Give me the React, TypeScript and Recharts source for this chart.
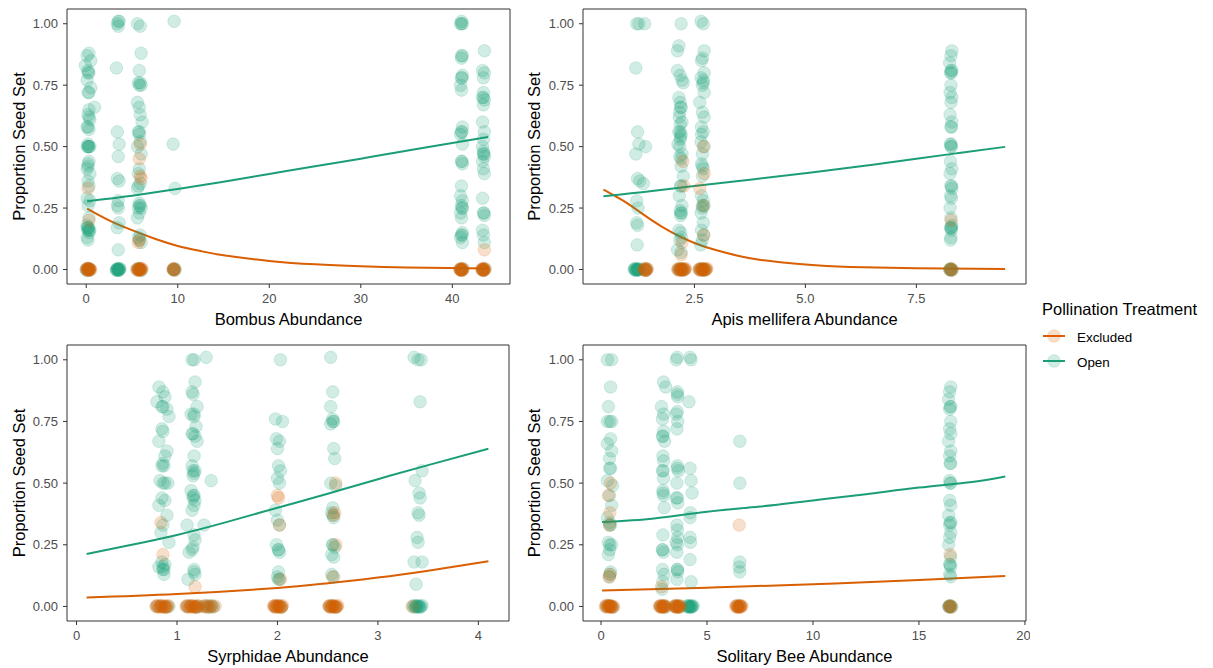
import { ComposedChart, Scatter, Line, XAxis, YAxis, ReferenceArea } from 'recharts'

type Pt = [number, number]

const OPEN = '#1B9E77'
const EXCL = '#D95F02'

const yTicks = [0, 0.25, 0.5, 0.75, 1]
const yDomain: [number, number] = [-0.059, 1.06]

// Bombus
const bombusTicks = [0, 10, 20, 30, 40]
const bombusOpen: Pt[] = [
  [0.3, 0.88], [0.1, 0.87], [0.5, 0.85], [-0.1, 0.83], [0.2, 0.81], [0.3, 0.8], [0.2, 0.8], [0.1, 0.77], [0.5, 0.74],
  [0.2, 0.72], [0.3, 0.72], [0.9, 0.66], [0.3, 0.65], [0.2, 0.63], [0.3, 0.62], [0.4, 0.61], [0.1, 0.58], [0.2, 0.58],
  [0.3, 0.57], [0.2, 0.51], [0.4, 0.5], [0.1, 0.5], [0.3, 0.5], [0.2, 0.5], [0.25, 0.5], [0.3, 0.44], [0.2, 0.43],
  [0.2, 0.42], [0.1, 0.41], [0.4, 0.39], [0.2, 0.36], [0.3, 0.34], [0.1, 0.29], [0.4, 0.28], [0.2, 0.26], [0.3, 0.21],
  [0.1, 0.18], [0.2, 0.17], [0.1, 0.17], [0.25, 0.17], [0.2, 0.16], [0.4, 0.16], [0.3, 0.16], [0.3, 0.15], [0.1, 0.13],
  [0.2, 0.12],
  [3.5, 1.01], [3.4, 1.0], [3.6, 1.01], [3.5, 0.99], [3.3, 0.82], [3.4, 0.56], [3.6, 0.51], [3.5, 0.46], [3.4, 0.37],
  [3.6, 0.36], [3.5, 0.28], [3.4, 0.26], [3.5, 0.25], [3.6, 0.19], [3.4, 0.17], [3.5, 0.08],
  [5.6, 1.0], [5.9, 0.99], [6.0, 0.88], [5.8, 0.81], [5.9, 0.76], [5.7, 0.76], [6.0, 0.75], [5.8, 0.75], [5.6, 0.68],
  [5.8, 0.66], [5.9, 0.63], [6.1, 0.6], [5.7, 0.56], [5.8, 0.56], [5.8, 0.55], [5.9, 0.52], [5.6, 0.5], [6.0, 0.47],
  [5.8, 0.41], [5.7, 0.39], [5.9, 0.35], [5.7, 0.34], [5.6, 0.33], [5.8, 0.27], [5.9, 0.26], [5.8, 0.26], [5.7, 0.25],
  [6.0, 0.25], [5.8, 0.23], [5.6, 0.21], [5.9, 0.14], [5.7, 0.13], [5.8, 0.12], [6.0, 0.11],
  [9.6, 1.01], [9.5, 0.51], [9.7, 0.33],
  [41.0, 1.01], [41.1, 1.0], [40.9, 1.0], [41.0, 1.0], [41.1, 0.87], [41.0, 0.86], [41.0, 0.87], [41.1, 0.79],
  [41.0, 0.78], [41.05, 0.78], [40.9, 0.75], [41.0, 0.73], [41.1, 0.58], [41.0, 0.56], [41.05, 0.56], [40.9, 0.55],
  [41.1, 0.51], [41.0, 0.44], [41.05, 0.44], [41.1, 0.43], [41.0, 0.34], [40.9, 0.3], [41.1, 0.28], [41.0, 0.26],
  [41.1, 0.25], [41.05, 0.25], [40.9, 0.23], [41.0, 0.21], [41.1, 0.15], [41.0, 0.14], [41.05, 0.14], [40.9, 0.13],
  [41.1, 0.11],
  [43.5, 0.89], [43.3, 0.81], [43.5, 0.8], [43.4, 0.78], [43.4, 0.72], [43.3, 0.7], [43.4, 0.7], [43.5, 0.69],
  [43.4, 0.67], [43.3, 0.6], [43.5, 0.56], [43.4, 0.53], [43.3, 0.5], [43.4, 0.48], [43.5, 0.46], [43.4, 0.47],
  [43.45, 0.47], [43.3, 0.44], [43.4, 0.41], [43.5, 0.39], [43.3, 0.29], [43.4, 0.23], [43.45, 0.23], [43.5, 0.22],
  [43.3, 0.16], [43.4, 0.14], [43.5, 0.11],
]
const bombusOpenZero: Pt[] = [
  [0.0, 0], [0.4, 0], [0.2, 0.004], [0.1, -0.004], [0.3, 0.002],
  [3.3, 0], [3.4, 0.004], [3.5, -0.004], [3.6, 0], [3.7, 0.003], [3.4, -0.002], [3.5, 0.002], [3.6, -0.003],
  [3.5, 0], [3.4, 0], [3.6, 0.004], [3.3, -0.003],
  [5.6, 0], [5.8, 0.004], [6.0, -0.004], [5.7, 0.002], [5.9, 0],
  [9.5, 0], [9.7, 0.003], [9.6, -0.003], [9.6, 0],
  [40.9, 0], [41.1, 0.003], [41.0, -0.003],
  [43.3, 0], [43.5, 0.003], [43.4, -0.003],
]
const bombusExcl: Pt[] = [
  [0.2, 0.33], [0.3, 0.2],
  [5.9, 0.51], [5.8, 0.45], [5.9, 0.38], [6.0, 0.37], [5.8, 0.12], [5.7, 0.11],
  [43.5, 0.08],
]
const bombusExclZero: Pt[] = [
  [0.0, 0], [0.1, 0.004], [0.2, -0.004], [0.3, 0], [0.4, 0.003], [0.5, -0.002], [0.1, 0.002], [0.2, 0],
  [0.3, -0.003], [0.4, 0], [0.2, 0.005], [0.3, 0.001],
  [5.5, 0], [5.6, 0.004], [5.7, -0.004], [5.8, 0], [5.9, 0.003], [6.0, -0.002], [6.1, 0.002], [5.7, 0],
  [5.8, -0.003], [5.9, 0], [6.0, 0.005], [5.8, 0.001],
  [9.5, 0], [9.6, 0.004], [9.7, -0.003], [9.6, 0], [9.5, 0.002],
  [40.8, 0], [40.9, 0.004], [41.0, -0.004], [41.1, 0], [41.2, 0.003], [40.9, -0.002], [41.0, 0.002],
  [41.1, -0.003], [41.0, 0], [40.9, 0],
  [43.2, 0], [43.3, 0.004], [43.4, -0.004], [43.5, 0], [43.6, 0.003], [43.3, -0.002], [43.4, 0.002],
  [43.5, -0.003], [43.4, 0], [43.3, 0],
]
const bombusOpenFit: Pt[] = [
  [0.1, 0.278], [5, 0.3], [10, 0.328], [15, 0.357], [20, 0.389], [25, 0.42], [30, 0.451], [35, 0.483], [40, 0.515], [43.9, 0.539],
]
const bombusExclFit: Pt[] = [
  [0.1, 0.248], [2.5, 0.2], [5, 0.16], [7.5, 0.125], [10, 0.096], [12.5, 0.075], [15, 0.058], [20, 0.035], [25, 0.021],
  [30, 0.013], [35, 0.008], [43.9, 0.004],
]

// Apis mellifera
const apisTicks = [2.5, 5, 7.5]
const apisOpen: Pt[] = [
  [1.2, 1.0], [1.25, 1.0], [1.18, 0.82], [1.22, 0.56], [1.25, 0.51], [1.18, 0.47], [1.22, 0.37], [1.27, 0.36],
  [1.2, 0.28], [1.23, 0.25], [1.2, 0.19], [1.22, 0.18], [1.21, 0.1],
  [1.38, 1.0], [1.4, 0.5], [1.35, 0.35],
  [2.2, 1.0], [2.15, 0.91], [2.12, 0.89], [2.12, 0.81], [2.18, 0.79], [2.22, 0.77], [2.25, 0.76], [2.15, 0.7],
  [2.18, 0.68], [2.2, 0.66], [2.19, 0.66], [2.17, 0.64], [2.16, 0.62], [2.22, 0.6], [2.18, 0.59], [2.15, 0.56],
  [2.18, 0.56], [2.2, 0.55], [2.19, 0.54], [2.18, 0.53], [2.13, 0.51], [2.17, 0.5], [2.22, 0.47], [2.17, 0.46],
  [2.2, 0.45], [2.2, 0.42], [2.25, 0.38], [2.2, 0.34], [2.19, 0.34], [2.16, 0.3], [2.22, 0.26], [2.18, 0.24],
  [2.2, 0.23], [2.2, 0.23], [2.19, 0.22], [2.15, 0.16], [2.19, 0.15], [2.21, 0.13], [2.17, 0.12], [2.12, 0.08], [2.2, 0.07],
  [2.65, 1.01], [2.7, 1.0], [2.72, 0.89], [2.68, 0.86], [2.66, 0.85], [2.72, 0.8], [2.65, 0.78], [2.7, 0.77],
  [2.7, 0.76], [2.68, 0.75], [2.72, 0.72], [2.62, 0.68], [2.68, 0.64], [2.72, 0.62], [2.66, 0.58], [2.7, 0.56],
  [2.66, 0.55], [2.65, 0.52], [2.72, 0.5], [2.68, 0.47], [2.66, 0.43], [2.68, 0.42], [2.7, 0.41], [2.68, 0.38],
  [2.66, 0.3], [2.7, 0.28], [2.72, 0.26], [2.68, 0.26], [2.68, 0.25], [2.65, 0.23], [2.7, 0.19], [2.66, 0.16],
  [2.71, 0.14], [2.68, 0.12], [2.64, 0.1],
  [8.3, 0.89], [8.28, 0.87], [8.25, 0.84], [8.3, 0.81], [8.27, 0.8], [8.29, 0.8], [8.28, 0.81], [8.28, 0.75],
  [8.26, 0.72], [8.3, 0.7], [8.28, 0.68], [8.26, 0.63], [8.3, 0.6], [8.28, 0.58], [8.29, 0.58], [8.27, 0.51],
  [8.28, 0.51], [8.29, 0.5], [8.28, 0.5], [8.27, 0.44], [8.3, 0.41], [8.26, 0.39], [8.28, 0.34], [8.29, 0.34],
  [8.3, 0.33], [8.27, 0.3], [8.29, 0.29], [8.26, 0.25], [8.28, 0.21], [8.3, 0.18], [8.27, 0.17], [8.28, 0.17],
  [8.29, 0.17], [8.29, 0.16], [8.28, 0.13], [8.27, 0.12],
]
const apisOpenZero: Pt[] = [
  [1.14, 0], [1.16, 0.004], [1.18, -0.004], [1.2, 0], [1.22, 0.003], [1.24, -0.002], [1.26, 0.002], [1.18, 0],
  [1.2, -0.003], [1.22, 0], [1.16, 0.002], [1.24, 0.001],
  [1.38, 0], [1.42, 0.003], [1.4, -0.003],
  [2.14, 0], [2.18, 0.003], [2.22, -0.003], [2.26, 0], [2.2, 0.002],
  [2.62, 0], [2.66, 0.003], [2.7, -0.003], [2.74, 0], [2.68, 0.002],
  [8.25, 0], [8.27, 0.003], [8.29, -0.003], [8.31, 0], [8.28, 0.002], [8.26, -0.002],
]
const apisExcl: Pt[] = [
  [2.24, 0.44], [2.26, 0.34], [2.22, 0.11], [2.2, 0.06],
  [2.7, 0.5], [2.72, 0.39], [2.62, 0.33], [2.7, 0.26], [2.71, 0.14],
  [8.28, 0.2],
]
const apisExclZero: Pt[] = [
  [1.36, 0], [1.38, 0.004], [1.4, -0.004], [1.42, 0], [1.44, 0.003], [1.38, -0.002], [1.4, 0.002], [1.42, -0.003],
  [2.12, 0], [2.14, 0.004], [2.16, -0.004], [2.18, 0], [2.2, 0.003], [2.22, -0.002], [2.24, 0.002], [2.26, -0.003],
  [2.28, 0], [2.3, 0.004], [2.16, 0.001], [2.2, -0.001], [2.24, 0], [2.28, 0.002],
  [2.6, 0], [2.62, 0.004], [2.64, -0.004], [2.66, 0], [2.68, 0.003], [2.7, -0.002], [2.72, 0.002], [2.74, -0.003],
  [2.76, 0], [2.78, 0.004], [2.64, 0.001], [2.68, -0.001], [2.72, 0], [2.76, 0.002],
  [8.26, 0], [8.28, 0.003], [8.3, -0.003], [8.28, 0],
]
const apisOpenFit: Pt[] = [
  [0.45, 0.298], [1.5, 0.318], [2.5, 0.34], [3.75, 0.365], [5, 0.392], [6.25, 0.42], [7.5, 0.451], [8.5, 0.475], [9.5, 0.499],
]
const apisExclFit: Pt[] = [
  [0.45, 0.325], [0.75, 0.295], [1.0, 0.268], [1.5, 0.205], [2.0, 0.15], [2.5, 0.108], [3.0, 0.078], [3.5, 0.055],
  [4.0, 0.039], [5.0, 0.02], [6.0, 0.01], [7.5, 0.005], [9.5, 0.002],
]

// Syrphidae
const syrphTicks = [0, 1, 2, 3, 4]
const syrphOpen: Pt[] = [
  [0.82, 0.89], [0.86, 0.87], [0.88, 0.85], [0.8, 0.83], [0.85, 0.81], [0.86, 0.81], [0.9, 0.8], [0.92, 0.77],
  [0.85, 0.72], [0.86, 0.71], [0.82, 0.67], [0.9, 0.63], [0.88, 0.61], [0.86, 0.58], [0.85, 0.57], [0.87, 0.57],
  [0.83, 0.51], [0.88, 0.5], [0.91, 0.5], [0.86, 0.5], [0.85, 0.44], [0.88, 0.43], [0.82, 0.41], [0.9, 0.37],
  [0.86, 0.33], [0.84, 0.3], [0.92, 0.26], [0.85, 0.18], [0.88, 0.17], [0.82, 0.16], [0.86, 0.16], [0.86, 0.15],
  [0.87, 0.15], [0.87, 0.13],
  [1.15, 1.0], [1.17, 1.0], [1.18, 0.91], [1.15, 0.87], [1.16, 0.86], [1.2, 0.81], [1.14, 0.78], [1.17, 0.78],
  [1.17, 0.77], [1.19, 0.73], [1.15, 0.7], [1.16, 0.7], [1.18, 0.69], [1.2, 0.67], [1.17, 0.61], [1.15, 0.57],
  [1.18, 0.55], [1.16, 0.55], [1.17, 0.54], [1.16, 0.53], [1.14, 0.47], [1.16, 0.45], [1.17, 0.45], [1.16, 0.44],
  [1.18, 0.43], [1.17, 0.41], [1.15, 0.39], [1.1, 0.33], [1.17, 0.29], [1.18, 0.27], [1.16, 0.24], [1.15, 0.23],
  [1.12, 0.22], [1.17, 0.15], [1.17, 0.14], [1.18, 0.13], [1.11, 0.11],
  [1.29, 1.01], [1.34, 0.51], [1.27, 0.33],
  [2.03, 1.0], [1.98, 0.76], [2.05, 0.75], [1.99, 0.68], [2.02, 0.67], [2.0, 0.64], [2.01, 0.57], [2.03, 0.55],
  [2.0, 0.52], [2.02, 0.5], [1.98, 0.39], [2.0, 0.35], [2.02, 0.33], [1.99, 0.25], [2.01, 0.23], [2.01, 0.23],
  [2.02, 0.22], [2.01, 0.14], [2.0, 0.12], [2.02, 0.11], [2.01, 0.11],
  [2.53, 1.01], [2.55, 0.87], [2.53, 0.81], [2.55, 0.76], [2.56, 0.75], [2.55, 0.75], [2.53, 0.74], [2.56, 0.64],
  [2.57, 0.6], [2.53, 0.5], [2.58, 0.49], [2.55, 0.4], [2.54, 0.38], [2.55, 0.37], [2.56, 0.36], [2.55, 0.25],
  [2.55, 0.25], [2.57, 0.24], [2.54, 0.21], [2.56, 0.2], [2.54, 0.13], [2.56, 0.12],
  [3.36, 1.01], [3.4, 1.0], [3.43, 1.0], [3.42, 0.83], [3.44, 0.55], [3.37, 0.51], [3.41, 0.46], [3.42, 0.44],
  [3.4, 0.38], [3.41, 0.37], [3.39, 0.28], [3.4, 0.26], [3.36, 0.18], [3.44, 0.18], [3.38, 0.09],
]
const syrphOpenZero: Pt[] = [
  [0.8, 0], [0.84, 0.003], [0.88, -0.003], [0.92, 0],
  [1.1, 0], [1.14, 0.003], [1.18, -0.003], [1.22, 0],
  [1.27, 0], [1.3, 0.003], [1.33, -0.003], [1.36, 0], [1.34, 0.002],
  [1.98, 0], [2.01, 0.003], [2.04, -0.003],
  [2.52, 0], [2.55, 0.003], [2.58, -0.003],
  [3.35, 0], [3.36, 0.004], [3.37, -0.004], [3.38, 0], [3.39, 0.003], [3.4, -0.002], [3.41, 0.002], [3.42, -0.003],
  [3.43, 0], [3.44, 0.004], [3.38, 0.001], [3.41, -0.001],
]
const syrphExcl: Pt[] = [
  [0.84, 0.34], [0.86, 0.21],
  [1.18, 0.08],
  [2.0, 0.45], [2.01, 0.44], [2.02, 0.33], [2.03, 0.11],
  [2.58, 0.5], [2.57, 0.38], [2.56, 0.37], [2.58, 0.25], [2.55, 0.12],
]
const syrphExclZero: Pt[] = [
  [0.79, 0], [0.8, 0.004], [0.82, -0.004], [0.83, 0], [0.85, 0.003], [0.86, -0.002], [0.88, 0.002], [0.89, -0.003],
  [0.9, 0], [0.91, 0.004], [0.84, 0.001], [0.87, -0.001], [0.81, 0.002], [0.9, -0.002],
  [1.09, 0], [1.1, 0.004], [1.12, -0.004], [1.13, 0], [1.15, 0.003], [1.16, -0.002], [1.18, 0.002], [1.19, -0.003],
  [1.2, 0], [1.21, 0.004], [1.14, 0.001], [1.17, -0.001], [1.11, 0.002], [1.2, -0.002],
  [1.26, 0], [1.28, 0.004], [1.3, -0.004], [1.32, 0], [1.34, 0.003], [1.36, -0.002], [1.38, 0.002], [1.3, 0],
  [1.96, 0], [1.97, 0.004], [1.98, -0.004], [1.99, 0], [2.0, 0.003], [2.01, -0.002], [2.02, 0.002], [2.03, -0.003],
  [2.04, 0], [2.05, 0.004], [1.99, 0.001], [2.02, -0.001], [1.97, 0.002], [2.04, -0.002],
  [2.51, 0], [2.52, 0.004], [2.53, -0.004], [2.54, 0], [2.55, 0.003], [2.56, -0.002], [2.57, 0.002], [2.58, -0.003],
  [2.59, 0], [2.6, 0.004], [2.54, 0.001], [2.57, -0.001], [2.52, 0.002], [2.59, -0.002],
  [3.34, 0],
]
const syrphOpenFit: Pt[] = [
  [0.1, 0.213], [0.5, 0.246], [1, 0.29], [1.5, 0.343], [2, 0.4], [2.5, 0.457], [3, 0.516], [3.5, 0.573], [4.1, 0.639],
]
const syrphExclFit: Pt[] = [
  [0.1, 0.036], [1, 0.05], [2, 0.075], [2.5, 0.094], [3, 0.117], [3.5, 0.145], [4.1, 0.183],
]

// Solitary bees
const solTicks = [0, 5, 10, 15, 20]
const solOpen: Pt[] = [
  [0.3, 1.0], [0.5, 1.0], [0.45, 0.89], [0.35, 0.81], [0.5, 0.75], [0.3, 0.75], [0.42, 0.75], [0.45, 0.68],
  [0.3, 0.66], [0.5, 0.63], [0.4, 0.6], [0.45, 0.56], [0.41, 0.56], [0.3, 0.51], [0.55, 0.49], [0.4, 0.45],
  [0.5, 0.41], [0.3, 0.36], [0.41, 0.34], [0.45, 0.33], [0.41, 0.33], [0.35, 0.26], [0.5, 0.25], [0.41, 0.25],
  [0.41, 0.23], [0.35, 0.21], [0.42, 0.13], [0.4, 0.12], [0.45, 0.14],
  [2.95, 0.91], [3.05, 0.89], [2.85, 0.81], [2.95, 0.78], [2.9, 0.76], [2.95, 0.71], [2.9, 0.69], [2.92, 0.69],
  [3.0, 0.67], [2.92, 0.61], [2.95, 0.59], [2.9, 0.55], [2.93, 0.55], [2.95, 0.52], [2.92, 0.47], [2.93, 0.46],
  [2.95, 0.45], [2.98, 0.4], [2.92, 0.29], [2.9, 0.23], [2.9, 0.23], [2.95, 0.22], [2.9, 0.15], [2.97, 0.13],
  [2.92, 0.1], [2.88, 0.07],
  [3.6, 1.01], [3.55, 1.0], [3.6, 0.87], [3.6, 0.86], [3.62, 0.85], [3.6, 0.79], [3.55, 0.78], [3.62, 0.75],
  [3.58, 0.72], [3.6, 0.57], [3.6, 0.56], [3.65, 0.55], [3.58, 0.5], [3.55, 0.44], [3.6, 0.44], [3.62, 0.42],
  [3.58, 0.33], [3.6, 0.31], [3.62, 0.28], [3.55, 0.26], [3.6, 0.25], [3.58, 0.22], [3.6, 0.15], [3.6, 0.15],
  [3.62, 0.14], [3.58, 0.11],
  [4.2, 1.01], [4.25, 1.0], [4.15, 0.83], [4.2, 0.56], [4.25, 0.51], [4.3, 0.46], [4.22, 0.38], [4.2, 0.36],
  [4.2, 0.28], [4.22, 0.26], [4.2, 0.19], [4.25, 0.1],
  [6.55, 0.67], [6.55, 0.5], [6.55, 0.18], [6.52, 0.16], [6.55, 0.14],
  [16.5, 0.89], [16.45, 0.87], [16.4, 0.84], [16.5, 0.81], [16.47, 0.81], [16.45, 0.8], [16.5, 0.75], [16.45, 0.72],
  [16.5, 0.7], [16.4, 0.67], [16.5, 0.63], [16.45, 0.61], [16.5, 0.58], [16.47, 0.58], [16.45, 0.51], [16.5, 0.5],
  [16.47, 0.5], [16.45, 0.43], [16.5, 0.41], [16.4, 0.37], [16.5, 0.34], [16.47, 0.34], [16.45, 0.33], [16.5, 0.3],
  [16.45, 0.28], [16.4, 0.25], [16.5, 0.2], [16.45, 0.17], [16.47, 0.17], [16.5, 0.16], [16.45, 0.13], [16.5, 0.12],
]
const solOpenZero: Pt[] = [
  [0.25, 0], [0.4, 0.003], [0.55, -0.003], [0.45, 0],
  [2.8, 0], [2.95, 0.003], [3.05, -0.003],
  [3.5, 0], [3.6, 0.003], [3.7, -0.003],
  [4.05, 0], [4.1, 0.004], [4.15, -0.004], [4.2, 0], [4.25, 0.003], [4.3, -0.002], [4.35, 0.002], [4.15, 0],
  [4.2, -0.003], [4.25, 0], [4.1, 0.002], [4.3, 0.001],
  [6.45, 0], [6.55, 0.003],
  [16.4, 0], [16.45, 0.003], [16.5, -0.003], [16.55, 0], [16.47, 0.002], [16.42, -0.002],
]
const solExcl: Pt[] = [
  [0.45, 0.5], [0.35, 0.45], [0.42, 0.38], [0.4, 0.33], [0.42, 0.13], [0.38, 0.12],
  [2.85, 0.08],
  [6.52, 0.33],
  [16.47, 0.21],
]
const solExclZero: Pt[] = [
  [0.2, 0], [0.25, 0.004], [0.3, -0.004], [0.35, 0], [0.4, 0.003], [0.45, -0.002], [0.5, 0.002], [0.55, -0.003],
  [0.6, 0], [0.3, 0.004], [0.4, 0.001], [0.5, -0.001], [0.35, 0.002], [0.45, 0],
  [2.75, 0], [2.8, 0.004], [2.85, -0.004], [2.9, 0], [2.95, 0.003], [3.0, -0.002], [3.05, 0.002], [2.85, 0],
  [2.9, -0.003], [2.95, 0], [2.8, 0.002], [3.0, 0.001],
  [3.45, 0], [3.5, 0.004], [3.55, -0.004], [3.6, 0], [3.65, 0.003], [3.7, -0.002], [3.75, 0.002], [3.55, 0],
  [3.6, -0.003], [3.65, 0], [3.5, 0.002], [3.7, 0.001],
  [6.35, 0], [6.4, 0.004], [6.45, -0.004], [6.5, 0], [6.55, 0.003], [6.6, -0.002], [6.65, 0.002], [6.45, 0],
  [6.5, -0.003], [6.55, 0], [6.4, 0.002], [6.6, 0.001],
  [16.42, 0], [16.47, 0.003], [16.52, -0.003], [16.47, 0],
]
const solOpenFit: Pt[] = [
  [0.05, 0.342], [2.5, 0.357], [5, 0.384], [7.5, 0.405], [10, 0.43], [12.5, 0.455], [15, 0.482], [17.5, 0.505], [19.07, 0.527],
]
const solExclFit: Pt[] = [
  [0.05, 0.065], [5, 0.076], [10, 0.09], [15, 0.107], [19.07, 0.123],
]

const toXY = (pts: Pt[]) => pts.map(([x, y]) => ({ x, y }))

const dot = (color: string) => (p: any) => (
  <circle
    cx={p.cx}
    cy={p.cy}
    r={6.3}
    fill={color}
    fillOpacity={0.2}
    stroke={color}
    strokeOpacity={0.2}
    strokeWidth={0.8}
  />
)

const yTitle = (p: any) => {
  const vb = p.viewBox
  const cx = vb.x + 19.5
  const cy = vb.y + vb.height / 2
  return (
    <text x={cx} y={cy} transform={`rotate(-90 ${cx} ${cy})`} textAnchor="middle" dy="0.36em" fontSize={16.5} fill="#000">
      Proportion Seed Set
    </text>
  )
}

const xTitle = (text: string) => (p: any) => {
  const vb = p.viewBox
  return (
    <text x={vb.x + vb.width / 2} y={vb.y + 40.5} textAnchor="middle" fontSize={16.5} fill="#000">
      {text}
    </text>
  )
}

interface PanelProps {
  left: number
  top: number
  width: number
  height: number
  margin: { top: number; right: number; left: number; bottom: number }
  yWidth: number
  xHeight: number
  title: string
  xDomain: [number, number]
  xTicks: number[]
  digits: number
  open: Pt[]
  excl: Pt[]
  openFit: Pt[]
  exclFit: Pt[]
}

function Panel(props: PanelProps) {
  const { left, top, width, height, margin, yWidth, xHeight, title, xDomain, xTicks, digits } = props
  return (
    <div style={{ position: 'absolute', left, top }}>
      <ComposedChart width={width} height={height} margin={margin}>
        <XAxis
          type="number"
          dataKey="x"
          domain={xDomain}
          ticks={xTicks}
          allowDataOverflow
          height={xHeight}
          axisLine={false}
          tickLine={{ stroke: '#333333' }}
          tickSize={4}
          tickMargin={6}
          tick={{ fill: '#4D4D4D', fontSize: 13 }}
          tickFormatter={(v) => (digits ? Number(v).toFixed(digits) : String(v))}
          label={{ content: xTitle(title) }}
        />
        <YAxis
          type="number"
          dataKey="y"
          domain={yDomain}
          ticks={yTicks}
          allowDataOverflow
          width={yWidth}
          axisLine={false}
          tickLine={{ stroke: '#333333' }}
          tickSize={4}
          tickMargin={5}
          tick={{ fill: '#4D4D4D', fontSize: 13 }}
          tickFormatter={(v) => Number(v).toFixed(2)}
          label={{ content: yTitle }}
        />
        <Scatter data={toXY(props.open)} dataKey="y" shape={dot(OPEN)} isAnimationActive={false} />
        <Scatter data={toXY(props.excl)} dataKey="y" shape={dot(EXCL)} isAnimationActive={false} />
        <Line data={toXY(props.exclFit)} dataKey="y" type="natural" stroke={EXCL} strokeWidth={2} dot={false} isAnimationActive={false} />
        <Line data={toXY(props.openFit)} dataKey="y" type="natural" stroke={OPEN} strokeWidth={2} dot={false} isAnimationActive={false} />
        <ReferenceArea
          x1={xDomain[0]}
          x2={xDomain[1]}
          y1={yDomain[0]}
          y2={yDomain[1]}
          fill="none"
          stroke="#333333"
          strokeWidth={1}
        />
      </ComposedChart>
    </div>
  )
}

function LegendBox() {
  const items = [
    { label: 'Excluded', color: EXCL, y: 46 },
    { label: 'Open', color: OPEN, y: 71 },
  ]
  return (
    <svg width={180} height={90} style={{ position: 'absolute', left: 1030, top: 290 }}>
      <text x={12} y={25} fontSize={16.5} fill="#000">
        Pollination Treatment
      </text>
      {items.map((it) => (
        <g key={it.label}>
          <circle cx={24} cy={it.y} r={6.3} fill={it.color} fillOpacity={0.2} stroke={it.color} strokeOpacity={0.2} strokeWidth={0.8} />
          <line x1={13} x2={35} y1={it.y} y2={it.y} stroke={it.color} strokeWidth={2} />
          <text x={47} y={it.y + 5.5} fontSize={13.4} fill="#000">
            {it.label}
          </text>
        </g>
      ))}
    </svg>
  )
}

export default function App() {
  return (
    <div
      style={{
        position: 'absolute',
        left: 0,
        top: 0,
        width: 1213,
        height: 668,
        background: '#fff',
        fontFamily: '"Liberation Sans", Arial, sans-serif',
        overflow: 'hidden',
      }}
    >
      <Panel
        left={0} top={0} width={515} height={334}
        margin={{ top: 9, right: 5, left: 0, bottom: 0 }}
        yWidth={67} xHeight={50}
        title="Bombus Abundance"
        xDomain={[-2.1, 46.3]} xTicks={bombusTicks} digits={0}
        open={[...bombusOpen, ...bombusOpenZero]} excl={[...bombusExcl, ...bombusExclZero]}
        openFit={bombusOpenFit} exclFit={bombusExclFit}
      />
      <Panel
        left={515} top={0} width={515} height={334}
        margin={{ top: 9, right: 4, left: 0, bottom: 0 }}
        yWidth={68} xHeight={50}
        title="Apis mellifera Abundance"
        xDomain={[-0.01, 9.97]} xTicks={apisTicks} digits={1}
        open={[...apisOpen, ...apisOpenZero]} excl={[...apisExcl, ...apisExclZero]}
        openFit={apisOpenFit} exclFit={apisExclFit}
      />
      <Panel
        left={0} top={335} width={515} height={333}
        margin={{ top: 10, right: 6, left: 0, bottom: 0 }}
        yWidth={67} xHeight={47}
        title="Syrphidae Abundance"
        xDomain={[-0.095, 4.305]} xTicks={syrphTicks} digits={0}
        open={[...syrphOpen, ...syrphOpenZero]} excl={[...syrphExcl, ...syrphExclZero]}
        openFit={syrphOpenFit} exclFit={syrphExclFit}
      />
      <Panel
        left={515} top={335} width={515} height={333}
        margin={{ top: 10, right: 4, left: 0, bottom: 0 }}
        yWidth={68} xHeight={47}
        title="Solitary Bee Abundance"
        xDomain={[-0.85, 20.05]} xTicks={solTicks} digits={0}
        open={[...solOpen, ...solOpenZero]} excl={[...solExcl, ...solExclZero]}
        openFit={solOpenFit} exclFit={solExclFit}
      />
      <LegendBox />
    </div>
  )
}
